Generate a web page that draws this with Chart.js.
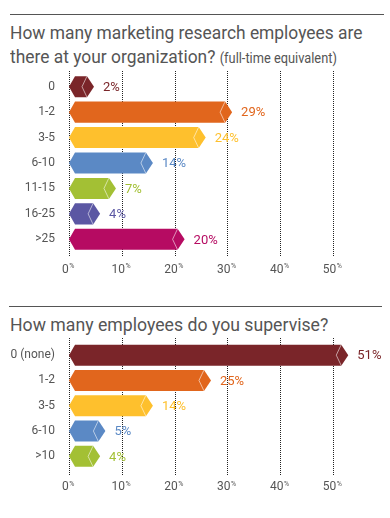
<!DOCTYPE html>
<html>
<head>
<meta charset="utf-8">
<script src="https://cdn.jsdelivr.net/npm/chart.js@4"></script>
<style>
  html, body { margin: 0; padding: 0; background: #fff; }
  #page { position: relative; width: 390px; height: 518px; overflow: hidden; font-family: Roboto, sans-serif; color: #555; }
  .rule { position: absolute; left: 0; top: 0; }
  .title { position: absolute; left: 10px; font-size: 19px; line-height: 24px; color: #555; white-space: nowrap; transform: scaleX(0.915); transform-origin: 0 0; }
  .title small { font-size: 14px; }
  canvas { position: absolute; left: 0; }
</style>
</head>
<body>
<div id="page">
  <svg class="rule" width="390" height="518">
    <line x1="10" y1="14.5" x2="384" y2="14.5" stroke="#555" stroke-width="1.2"/>
    <line x1="9" y1="306.5" x2="382" y2="306.5" stroke="#555" stroke-width="1.2"/>
  </svg>
  <div class="title" style="top:21px">How many marketing research employees are<br>there at your organization? <small>(full-time equivalent)</small></div>
  <canvas id="staffChart" width="390" height="210" style="top:70px"></canvas>

  <div class="title" style="top:313px;transform:scaleX(0.93)">How many employees do you supervise?</div>
  <canvas id="superviseChart" width="390" height="170" style="top:338px"></canvas>
</div>

<script>
const staffLabels = ['0', '1-2', '3-5', '6-10', '11-15', '16-25', '>25'];
const staffValues = [2, 29, 24, 14, 7, 4, 20];
const staffColors = ['#7a2529', '#e1661d', '#fec02d', '#5b89c5', '#a3c034', '#5b57a3', '#b60b62'];

const superviseLabels = ['0 (none)', '1-2', '3-5', '6-10', '>10'];
const superviseValues = [51, 25, 14, 5, 4];
const superviseColors = ['#7a2529', '#e1661d', '#fec02d', '#5b89c5', '#a3c034'];

const xTicks = [0, 10, 20, 30, 40, 50];

// dotted grid, hexagon bars, value labels and the little superscript % ticks
const hexBars = {
  id: 'hexBars',
  beforeDatasetsDraw(chart, args, opts) {
    const ctx = chart.ctx, xs = chart.scales.x, area = chart.chartArea;
    ctx.save();
    ctx.strokeStyle = '#222';
    ctx.lineWidth = 1;
    ctx.setLineDash([1, 1]);
    xTicks.forEach(t => {
      const px = Math.round(xs.getPixelForValue(t)) + 0.5;
      ctx.beginPath();
      ctx.moveTo(px, area.top - opts.gridTop);
      ctx.lineTo(px, area.bottom + opts.gridBottom);
      ctx.stroke();
    });
    ctx.restore();
  },
  afterDatasetsDraw(chart, args, opts) {
    const ctx = chart.ctx;
    const ds = chart.data.datasets[0];
    const meta = chart.getDatasetMeta(0);
    ctx.save();
    meta.data.forEach((bar, i) => {
      const { x, y, base, height } = bar.getProps(['x', 'y', 'base', 'height'], true);
      const h = height / 2;
      const end = Math.max(x + 3, base + 18);
      const tip = end + 7;
      ctx.fillStyle = ds.colors[i];
      ctx.beginPath();
      ctx.moveTo(base, y);
      ctx.lineTo(base + 6, y - h);
      ctx.lineTo(end, y - h);
      ctx.lineTo(tip, y);
      ctx.lineTo(end, y + h);
      ctx.lineTo(base + 6, y + h);
      ctx.closePath();
      ctx.fill();
      ctx.strokeStyle = 'rgba(255,255,255,0.7)';
      ctx.lineWidth = 0.8;
      ctx.beginPath();
      ctx.moveTo(end, y - h);
      ctx.lineTo(end - 5, y);
      ctx.lineTo(end, y + h);
      ctx.stroke();
      ctx.fillStyle = ds.colors[i];
      ctx.font = '13px Roboto';
      ctx.textAlign = 'left';
      ctx.textBaseline = 'middle';
      ctx.fillText(ds.data[i] + '%', tip + 9, y + 1);
    });
    ctx.restore();
  },
  afterDraw(chart, args, opts) {
    const ctx = chart.ctx, xs = chart.scales.x;
    const ty = chart.chartArea.bottom + opts.tickOffset;
    ctx.save();
    ctx.fillStyle = '#555';
    ctx.textBaseline = 'middle';
    ctx.textAlign = 'left';
    xTicks.forEach(t => {
      const px = xs.getPixelForValue(t);
      ctx.font = '12px Roboto';
      const num = String(t);
      const w1 = ctx.measureText(num).width;
      ctx.font = '7px Roboto';
      const w2 = ctx.measureText('%').width;
      const left = px - (w1 + w2) / 2 - 1;
      ctx.font = '12px Roboto';
      ctx.fillText(num, left, ty);
      ctx.font = '7px Roboto';
      ctx.fillText('%', left + w1 + 0.5, ty - 3);
    });
    ctx.restore();
  }
};

function makeChart(canvasId, labels, values, colors, pad, grid) {
  return new Chart(document.getElementById(canvasId), {
    type: 'bar',
    data: {
      labels: labels,
      datasets: [{
        data: values,
        colors: colors,
        backgroundColor: 'rgba(0,0,0,0)',
        borderWidth: 0,
        categoryPercentage: 1,
        barPercentage: 0.83
      }]
    },
    options: {
      indexAxis: 'y',
      responsive: false,
      animation: false,
      devicePixelRatio: 1,
      layout: { padding: { top: pad.top, bottom: pad.bottom, right: 57, left: 0 } },
      scales: {
        x: { min: 0, max: 50, display: false },
        y: {
          grid: { display: false, drawTicks: false },
          border: { display: false },
          ticks: { color: '#555', font: { family: 'Roboto', size: 12 }, padding: 14 },
          afterFit: s => { s.width = 69; s.paddingTop = 0; s.paddingBottom = 0; }
        }
      },
      plugins: {
        legend: { display: false },
        tooltip: { enabled: false },
        hexBars: grid
      }
    },
    plugins: [hexBars]
  });
}

makeChart('staffChart', staffLabels, staffValues, staffColors,
  { top: 4, bottom: 28 }, { gridTop: 3, gridBottom: 5, tickOffset: 17.5 });
makeChart('superviseChart', superviseLabels, superviseValues, superviseColors,
  { top: 4.5, bottom: 39 }, { gridTop: 4.5, gridBottom: 6, tickOffset: 18 });
</script>
</body>
</html>
